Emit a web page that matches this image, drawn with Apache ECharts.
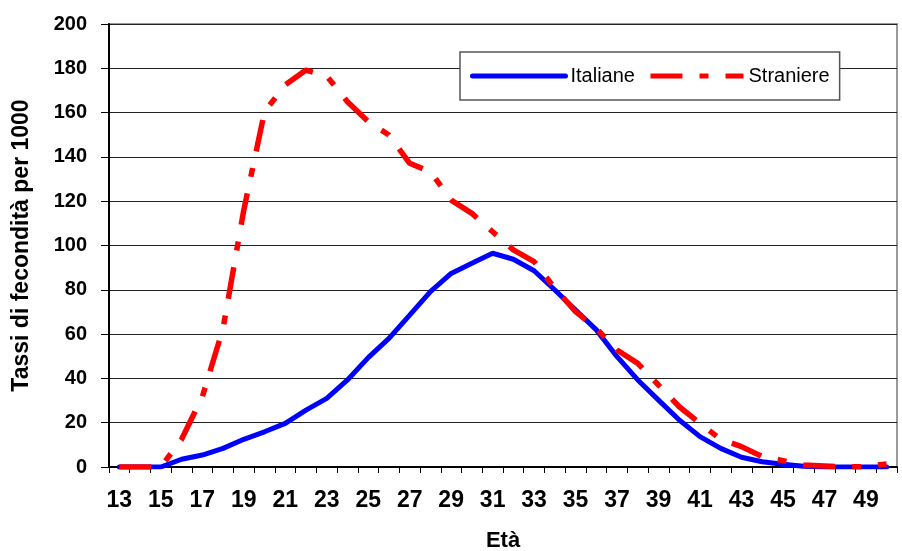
<!DOCTYPE html>
<html>
<head>
<meta charset="utf-8">
<script src="https://cdn.jsdelivr.net/npm/echarts@6/dist/echarts.min.js"></script>
<style>html,body{margin:0;padding:0;background:#fff}#c{width:902px;height:551px}</style>
</head>
<body>
<div id="c"></div>
<script>
const ages = [13,14,15,16,17,18,19,20,21,22,23,24,25,26,27,28,29,30,31,32,33,34,35,36,37,38,39,40,41,42,43,44,45,46,47,48,49,50].map(String);
const italiane = [0,0,0,3.5,5.4,8.4,12.5,15.9,19.7,25.7,31,39.3,49.4,58.1,68.6,79.2,87.4,92,96.5,93.8,88.6,79.9,70.9,61.9,49.8,39.3,30.2,21.2,13.7,8.4,4.4,2.4,1.2,0.3,0,0,0,0];
const straniere = [0,0,0,12.5,31.7,62.6,116,160.4,172.5,179.2,176.5,164.9,155.9,149.9,137.1,133.3,120.5,114.5,106.2,98,92.7,80.7,70.1,62.6,52.8,46.8,37,27.2,19.7,12.5,9.2,4.7,2.9,0.9,0.5,0,0.2,1.4];
const seriesNames = ['Italiane','Straniere'];
const yTitle = 'Tassi di fecondità per 1000';
const xTitle = 'Età';

const chart = echarts.init(document.getElementById('c'));
chart.setOption({
  animation: false,
  backgroundColor: '#fff',
  grid: {left:109, right:5, top:24, bottom:84, show:true, borderColor:'#9a9a9a', borderWidth:2, backgroundColor:'#fff',
         containLabel:false, outerBoundsMode:'none'},
  legend: {
    left: 460, top: 52,
    padding: [14, 10, 14, 10],
    backgroundColor: '#fff',
    borderColor: '#555', borderWidth: 1.5,
    itemWidth: 93, itemHeight: 14, itemGap: 13, itemTextGap: 6,
    itemStyle: {color: 'rgba(0,0,0,0)', borderWidth: 0, opacity: 0},
    lineStyle: {width: 5},
    textStyle: {fontFamily: '"Liberation Sans Narrow", "Arial Narrow", "Liberation Sans", sans-serif', fontSize: 20, color: '#000'},
    data: seriesNames
  },
  xAxis: {
    type: 'category', data: ages, boundaryGap: true,
    name: xTitle, nameLocation: 'middle', nameGap: 63,
    nameTextStyle: {fontFamily: '"Liberation Sans", Arial, sans-serif', fontWeight: 'bold', fontSize: 22, color: '#000'},
    axisLine: {lineStyle: {color: '#000', width: 2}},
    axisTick: {show: true, alignWithLabel: false, interval: 0, length: 6, lineStyle: {color: '#000', width: 1}},
    axisLabel: {interval: 1, margin: 22, fontFamily: '"Liberation Sans", Arial, sans-serif', fontWeight: 'bold', fontSize: 23, color: '#000'},
    splitLine: {show: false}
  },
  yAxis: {
    type: 'value', min: 0, max: 200, interval: 20,
    name: yTitle, nameLocation: 'middle', nameGap: 76,
    nameTextStyle: {fontFamily: '"Liberation Sans", Arial, sans-serif', fontWeight: 'bold', fontSize: 23, color: '#000'},
    axisLine: {show: true, lineStyle: {color: '#000', width: 2}},
    axisTick: {show: true, length: 8, lineStyle: {color: '#000', width: 1}},
    axisLabel: {margin: 22, fontFamily: '"Liberation Sans", Arial, sans-serif', fontWeight: 'bold', fontSize: 20, color: '#000'},
    splitLine: {show: true, lineStyle: {color: '#222', width: 1.2}}
  },
  series: [
    {name: seriesNames[0], type: 'line', data: italiane, symbol: 'none', color: '#0000ff',
     lineStyle: {color: '#0000ff', width: 5, cap: 'round'}, z: 2},
    {name: seriesNames[1], type: 'line', data: straniere, symbol: 'none', color: '#ff0000',
     lineStyle: {color: '#ff0000', width: 5.5, type: [32,17,9,17], cap: 'butt'}, z: 3}
  ]
});
</script>
</body>
</html>
